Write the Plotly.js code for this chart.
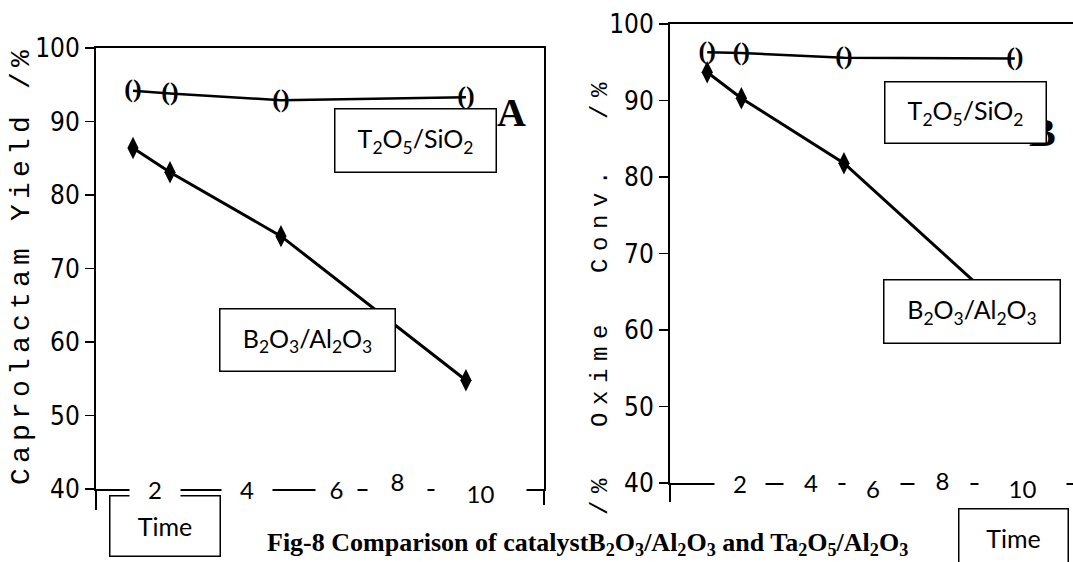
<!DOCTYPE html>
<html>
<head>
<meta charset="utf-8">
<script src="https://cdn.plot.ly/plotly-3.0.1.min.js"></script>
<style>
  html, body { margin: 0; padding: 0; background: #fff; }
  #fig { width: 1073px; height: 562px; }
</style>
</head>
<body>
<div id="fig"></div>
<script>
// Reaction time (h) at which both catalysts were sampled
const timeH = [1, 2, 5, 10];

// Panel A: caprolactam yield (%)
const yieldTa = [94.2, 93.8, 92.9, 93.3];
const yieldB = [86.4, 83.1, 74.4, 54.8];

// Panel B: oxime conversion (%)
const convTa = [96.3, 96.2, 95.6, 95.5];
const convB = [93.7, 90.3, 81.8, 61.5];

// Axis labels
const timeLabels = ['2', '4', '6', '8', '10'];
const yTicks = [40, 50, 60, 70, 80, 90, 100];

// Where the pasted time labels sit along each time axis
const leftLabelAt = [1.59, 4.08, 6.49, 8.16, 10.38];
const rightLabelAt = [1.96, 4.04, 5.84, 7.89, 10.23];
const leftLabelDy = [489, 489, 489, 481, 493];
const rightLabelDy = [483, 482, 488, 480, 488];
const leftLabelW = [50, 50, 41, 59, 91];
const rightLabelW = [50, 54, 54, 55, 87];

const W = 1073, H = 562;
const px = x => x / W;
const py = y => 1 - y / H;

const black = '#000';
const boxFont = { family: 'Lato, "Open Sans", sans-serif', size: 25, color: black };
const ovalText = timeH.map(() => '()');
const ovalFont = { family: 'Liberation Serif', size: 26, color: black, weight: 'bold' };

const traces = [
  { x: timeH, y: yieldTa, xaxis: 'x', yaxis: 'y', mode: 'lines+text', text: ovalText,
    textposition: 'middle center', textfont: ovalFont,
    line: { color: black, width: 2.5 }, cliponaxis: false },
  { x: timeH, y: yieldB, xaxis: 'x', yaxis: 'y', mode: 'lines+markers',
    line: { color: black, width: 3 },
    marker: { symbol: 'diamond-tall', size: 16, color: black } },
  { x: timeH, y: convTa, xaxis: 'x2', yaxis: 'y2', mode: 'lines+text', text: ovalText,
    textposition: 'middle center', textfont: ovalFont,
    line: { color: black, width: 2.5 }, cliponaxis: false },
  { x: timeH, y: convB, xaxis: 'x2', yaxis: 'y2', mode: 'lines+markers',
    line: { color: black, width: 3 },
    marker: { symbol: 'diamond-tall', size: 16, color: black } }
];

const yAxisBase = {
  range: [40, 100], tickvals: yTicks, ticks: 'outside', ticklen: 9, tickwidth: 1.5,
  tickcolor: black, showgrid: false, zeroline: false, showline: true,
  linecolor: black, linewidth: 2,
  tickfont: { family: '"DejaVu Sans Condensed", "Liberation Sans Narrow", sans-serif', size: 26, color: black }
};
const xAxisBase = {
  showticklabels: false, ticks: '', showgrid: false, zeroline: false,
  showline: true, linecolor: black, linewidth: 2, mirror: true
};

const annotations = [];
function box(text, cx, cy, w, h) {
  annotations.push({ xref: 'paper', yref: 'paper', x: px(cx), y: py(cy),
    xanchor: 'center', yanchor: 'middle', text: text, showarrow: false,
    font: boxFont, bgcolor: '#fff', bordercolor: black, borderwidth: 1.5,
    borderpad: 0, width: w, height: h });
}

// Y-axis titles (letter spacing applied after drawing)
const titleIdx = [];
titleIdx.push(annotations.length);
annotations.push({ xref: 'paper', yref: 'paper', x: px(21), y: py(265),
  xanchor: 'center', yanchor: 'middle', textangle: -90, showarrow: false,
  text: 'Caprolactam\u00A0Yield\u00A0/%',
  font: { family: '"Liberation Mono", monospace', size: 28, color: black } });
titleIdx.push(annotations.length);
annotations.push({ xref: 'paper', yref: 'paper', x: px(600), y: py(295),
  xanchor: 'center', yanchor: 'middle', textangle: -90, showarrow: false,
  text: '/%\u00A0\u00A0Oxime\u00A0\u00A0Conv.\u00A0\u00A0/%',
  font: { family: '"Liberation Mono", monospace', size: 24, color: black } });

// Panel letters
annotations.push({ xref: 'paper', yref: 'paper', x: px(511), y: py(112),
  xanchor: 'center', yanchor: 'middle', text: '<b>A</b>', showarrow: false,
  font: { family: 'Liberation Serif', size: 40, color: black } });
annotations.push({ xref: 'paper', yref: 'paper', x: px(1042), y: py(133),
  xanchor: 'center', yanchor: 'middle', text: '<b>B</b>', showarrow: false,
  font: { family: 'Liberation Serif', size: 40, color: black } });

// Catalyst label boxes
box('T<sub>2</sub>O<sub>5</sub>/SiO<sub>2</sub>', 415, 140, 160, 62);
box('T<sub>2</sub>O<sub>5</sub>/SiO<sub>2</sub>', 965, 113, 160, 60);
box('B<sub>2</sub>O<sub>3</sub>/Al<sub>2</sub>O<sub>3</sub>', 307, 340, 174, 61);
box('B<sub>2</sub>O<sub>3</sub>/Al<sub>2</sub>O<sub>3</sub>', 972, 311, 175, 62);
box('Time', 165, 526, 109, 59);
box('Time', 1013, 537, 108, 56);

// Time tick labels laid over the axis lines
timeLabels.forEach((t, i) => {
  annotations.push({ xref: 'x', yref: 'paper', x: leftLabelAt[i], y: py(leftLabelDy[i]),
    xanchor: 'center', yanchor: 'middle', text: t, showarrow: false,
    font: { family: 'Lato, sans-serif', size: 24, color: black },
    bgcolor: '#fff', width: leftLabelW[i], height: 26, borderpad: 0 });
  annotations.push({ xref: 'x2', yref: 'paper', x: rightLabelAt[i], y: py(rightLabelDy[i]),
    xanchor: 'center', yanchor: 'middle', text: t, showarrow: false,
    font: { family: 'Lato, sans-serif', size: 24, color: black },
    bgcolor: '#fff', width: rightLabelW[i], height: 26, borderpad: 0 });
});

// Figure caption
annotations.push({ xref: 'paper', yref: 'paper', x: px(587), y: py(544),
  xanchor: 'center', yanchor: 'middle', showarrow: false,
  text: '<b>Fig-8 Comparison of catalystB<sub>2</sub>O<sub>3</sub>/Al<sub>2</sub>O<sub>3</sub> and Ta<sub>2</sub>O<sub>5</sub>/Al<sub>2</sub>O<sub>3</sub></b>',
  font: { family: 'Liberation Serif', size: 26, color: black } });

const layout = {
  width: W, height: H, margin: { l: 0, r: 0, t: 0, b: 0 },
  paper_bgcolor: '#fff', plot_bgcolor: 'rgba(0,0,0,0)', showlegend: false,
  xaxis: Object.assign({}, xAxisBase, { domain: [px(96), px(544)], range: [0, 12.11], anchor: 'y' }),
  yaxis: Object.assign({}, yAxisBase, { domain: [py(489), py(48)], anchor: 'x', mirror: true }),
  xaxis2: Object.assign({}, xAxisBase, { domain: [px(670), 1], range: [-0.088, 11.7], anchor: 'y2' }),
  yaxis2: Object.assign({}, yAxisBase, { domain: [py(483), py(24)], anchor: 'x2', mirror: false }),
  shapes: [
    // axis stubs running below the time axes
    { type: 'line', xref: 'paper', yref: 'paper', x0: px(96), x1: px(96), y0: py(489), y1: py(510), line: { color: black, width: 2 } },
    { type: 'line', xref: 'paper', yref: 'paper', x0: px(670), x1: px(670), y0: py(483), y1: py(502), line: { color: black, width: 2 } },
    { type: 'line', xref: 'paper', yref: 'paper', x0: px(544), x1: px(544), y0: py(489), y1: py(505), line: { color: black, width: 2 } }
  ],
  annotations: annotations
};

Plotly.newPlot('fig', traces, layout, { staticPlot: true }).then(() => {
  const spacing = ['5.2px', '7.6px'];
  titleIdx.forEach((idx, k) => {
    const t = document.querySelector('.annotation[data-index="' + idx + '"] text.annotation-text');
    if (t) t.style.letterSpacing = spacing[k];
  });
});
</script>
</body>
</html>
